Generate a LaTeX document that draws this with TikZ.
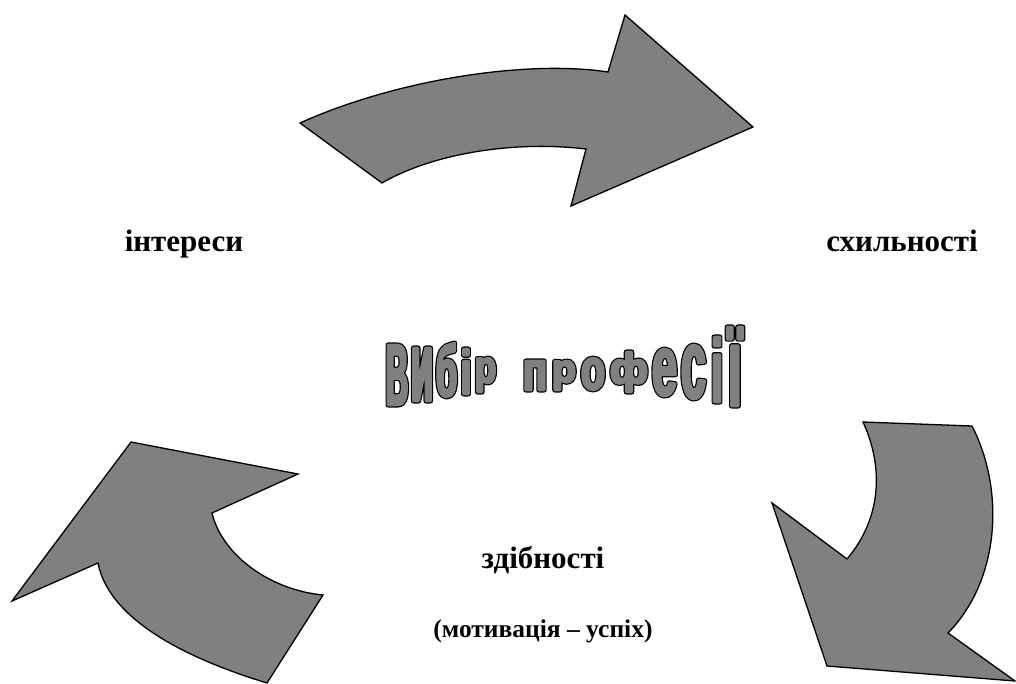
\documentclass[tikz,border=0pt]{standalone}
\usepackage{fontspec}
\setmainfont{Liberation Serif}
\newfontfamily\titlefont{Liberation Sans}[BoldFont={* Bold}]
\definecolor{arrowgray}{HTML}{808080}
\definecolor{titlegray}{HTML}{808080}
\newcommand\fitglyph[3]{%
  \begingroup
  \titlefont\bfseries\fontsize{100}{100}\selectfont
  \setbox0\hbox{#1}%
  \dimen2=\dimexpr\ht0+\dp0\relax
  \dimen4=\dimexpr#2\relax
  \dimen6=\dimexpr#3\relax
  \pgfmathsetmacro\gsize{100*\the\dimen6/\the\dimen2}%
  \pgfmathsetmacro\gstretch{\the\dimen4/(\the\wd0*\gsize/100)}%
  \fontsize{\gsize}{\gsize}\selectfont
  \edef\tmpfeat{\noexpand\addfontfeature{FakeStretch=\gstretch}}\tmpfeat
  \color{titlegray}%
  \rlap{\special{pdf:literal direct 2 Tr 5.0 w 0 G 1 j}#1}%
  {\special{pdf:literal direct 2 Tr 2.6 w 0.502 G 1 j}#1}%
  \special{pdf:literal direct 0 Tr}%
  \endgroup}
\newcommand\titleglyph[6]{%
  \node[glyphbox] (#1) at (#3,#6) {\fitglyph{#2}{#4pt-#3pt}{#6pt-#5pt}};}
\begin{document}
\begin{tikzpicture}[x=1pt,y=-1pt,
  arrowshape/.style={fill=arrowgray, draw=black, line width=1.3pt, line join=miter},
  wordlabel/.style={font=\fontsize{31}{36}\selectfont\bfseries, anchor=base, inner sep=0pt},
  wordsub/.style={font=\fontsize{25.5}{30}\selectfont\bfseries, anchor=base, inner sep=0pt},
  glyphbox/.style={anchor=south west, inner sep=0pt, outer sep=0pt}]
\useasboundingbox (0,0) rectangle (1016,684);
\clip (0,0) rectangle (1016,684);
% top arrow
\draw[arrowshape] (300,123) .. controls (400,78) and (530,60) .. (608,72) -- (625,15) -- (753,127) -- (571,206) -- (586,149) .. controls (510,140) and (430,155) .. (382,183) -- cycle;
% left arrow
\draw[arrowshape] (131,442) -- (298,474) -- (212,513) .. controls (222,555) and (270,590) .. (323,595) -- (267,683) .. controls (175,655) and (108,615) .. (98,563) -- (12,601) -- cycle;
% right arrow
\draw[arrowshape] (863,422) -- (972,426) .. controls (1005,490) and (1000,580) .. (948,633) -- (1015,681) -- (827,666) -- (772,503) -- (847,559) .. controls (880,520) and (885,470) .. (863,422) -- cycle;
% labels
\node[wordlabel] (interests) at (184,252) {інтереси};
\node[wordlabel] (inclinations) at (902,252) {схильності};
\node[wordlabel] (abilities) at (543,568) {здібності};
\node[wordsub] (motivation) at (543,637) {(мотивація – успіх)};
% title
\titleglyph{t1}{В}{386}{408}{345}{405}
\titleglyph{t2}{и}{411}{433}{348}{401}
\titleglyph{t3}{б}{436}{457}{343}{397}
\titleglyph{t4}{і}{461}{471}{349}{394}
\titleglyph{t5}{р}{475}{496}{358}{392}
\titleglyph{t6}{п}{523}{547}{361}{390}
\titleglyph{t7}{р}{552}{576}{361}{390}
\titleglyph{t8}{о}{581}{605}{358}{390}
\titleglyph{t9}{ф}{610}{648}{352}{392}
\titleglyph{t10}{е}{652}{677}{349}{396}
\titleglyph{t11}{с}{681}{706}{345}{399}
\titleglyph{t12}{і}{711}{723}{337}{402}
\titleglyph{t13}{ї}{728}{742}{327}{406}
\end{tikzpicture}
\end{document}
